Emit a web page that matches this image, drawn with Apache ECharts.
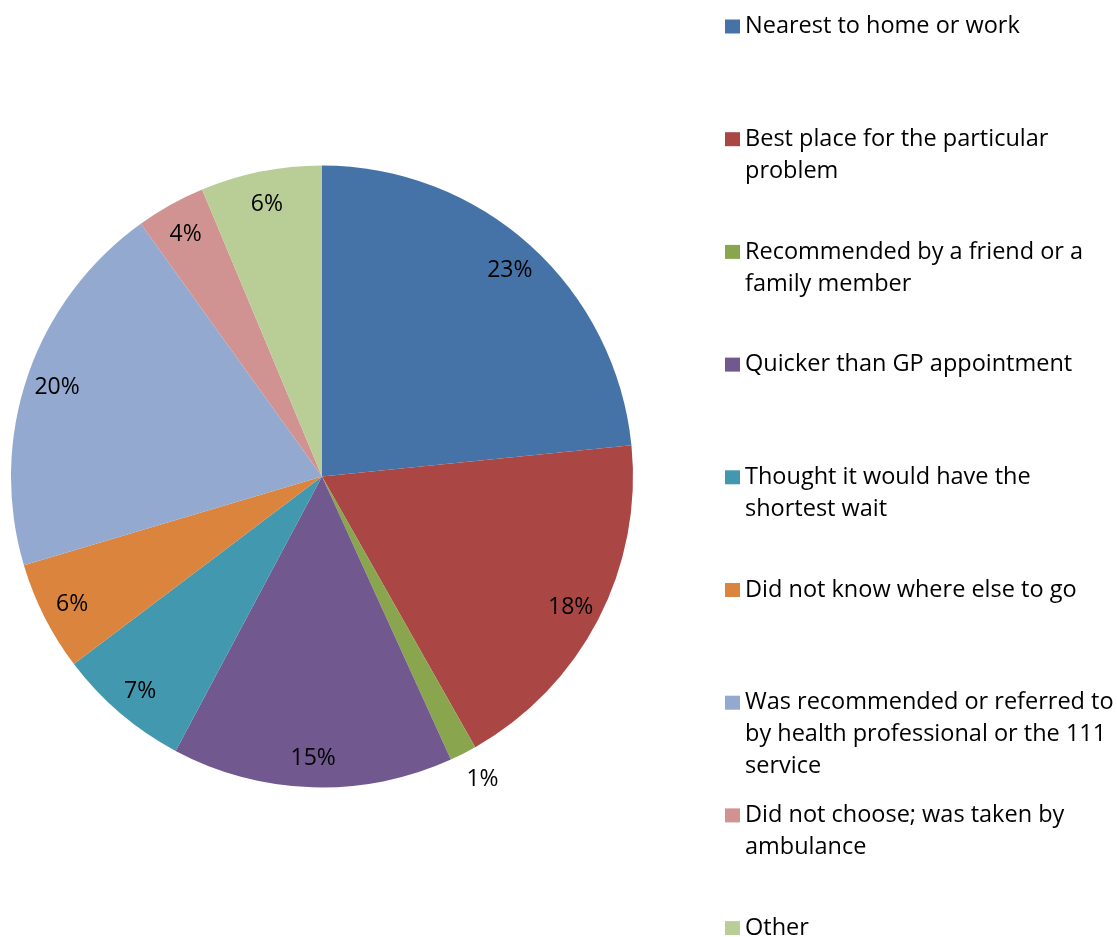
<!DOCTYPE html>
<html><head><meta charset="utf-8">
<script src="https://cdn.jsdelivr.net/npm/echarts@6/dist/echarts.min.js"></script>
<style>html,body{margin:0;padding:0;background:#fff}#c{width:1117px;height:937px}</style>
</head><body><div id="c"></div>
<script>
const categories = [
  'Nearest to home or work',
  'Best place for the particular problem',
  'Recommended by a friend or a family member',
  'Quicker than GP appointment',
  'Thought it would have the shortest wait',
  'Did not know where else to go',
  'Was recommended or referred to by health professional or the 111 service',
  'Did not choose; was taken by ambulance',
  'Other'
];
const legendLabels = [
  'Nearest to home or work',
  'Best place for the particular\nproblem',
  'Recommended by a friend or a\nfamily member',
  'Quicker than GP appointment',
  'Thought it would have the\nshortest wait',
  'Did not know where else to go',
  'Was recommended or referred to\nby health professional or the 111\nservice',
  'Did not choose; was taken by\nambulance',
  'Other'
];
const values = [23.4, 18.4, 1.4, 14.6, 6.9, 5.7, 19.7, 3.6, 6.3];
const colors = ['#4572A7','#AA4643','#89A54E','#71588F','#4198AF','#DB843D','#93A9CF','#D19392','#B9CD96'];

const FONT = '"Open Sans", sans-serif';
const CX = 322, CY = 476.5, R = 311, LABEL_R = 277;
const LEG_X = 725, LEG_Y0 = 26.5, LEG_STEP = 112.7, LEG_LH = 32;

const chart = echarts.init(document.getElementById('c'), null, {renderer: 'canvas'});

const pieData = categories.map((n, i) => ({name: n, value: values[i], itemStyle: {color: colors[i]}}));
const labelData = categories.map((n, i) => {
  const d = {name: n, value: values[i]};
  if (values[i] < 2) {
    d.label = {position: 'outside', distanceToLabelLine: -15};
    d.labelLine = {show: false, length: 27, length2: 6};
  }
  return d;
});

const legends = legendLabels.map((lab, i) => {
  const nb = lab.split('\n').length - 1;
  const text = '\n'.repeat(nb) + lab;
  return {
    data: [categories[i]],
    orient: 'vertical',
    left: LEG_X,
    top: LEG_Y0 + LEG_STEP * i - (nb + 0.5) * LEG_LH,
    padding: 0,
    itemWidth: 15,
    itemHeight: 14,
    icon: 'rect',
    selectedMode: false,
    formatter: () => text,
    textStyle: {fontFamily: FONT, fontSize: 23.5, lineHeight: LEG_LH, color: '#000'}
  };
});

chart.setOption({
  animation: false,
  backgroundColor: '#fff',
  legend: legends,
  series: [
    {
      type: 'pie',
      center: [CX, CY],
      radius: R,
      startAngle: 90,
      clockwise: true,
      silent: true,
      label: {show: false},
      labelLine: {show: false},
      itemStyle: {borderWidth: 0},
      emphasis: {disabled: true},
      data: pieData
    },
    {
      type: 'pie',
      center: [CX, CY],
      radius: [2 * LABEL_R - R, R],
      startAngle: 90,
      clockwise: true,
      silent: true,
      avoidLabelOverlap: false,
      itemStyle: {color: 'rgba(0,0,0,0)', borderWidth: 0},
      emphasis: {disabled: true},
      label: {
        show: true,
        position: 'inside',
        fontFamily: FONT,
        fontSize: 23,
        color: '#000',
        offset: [0, 2],
        formatter: p => Math.round(p.value) + '%'
      },
      labelLine: {show: false},
      data: labelData
    }
  ]
});
</script>
</body></html>
